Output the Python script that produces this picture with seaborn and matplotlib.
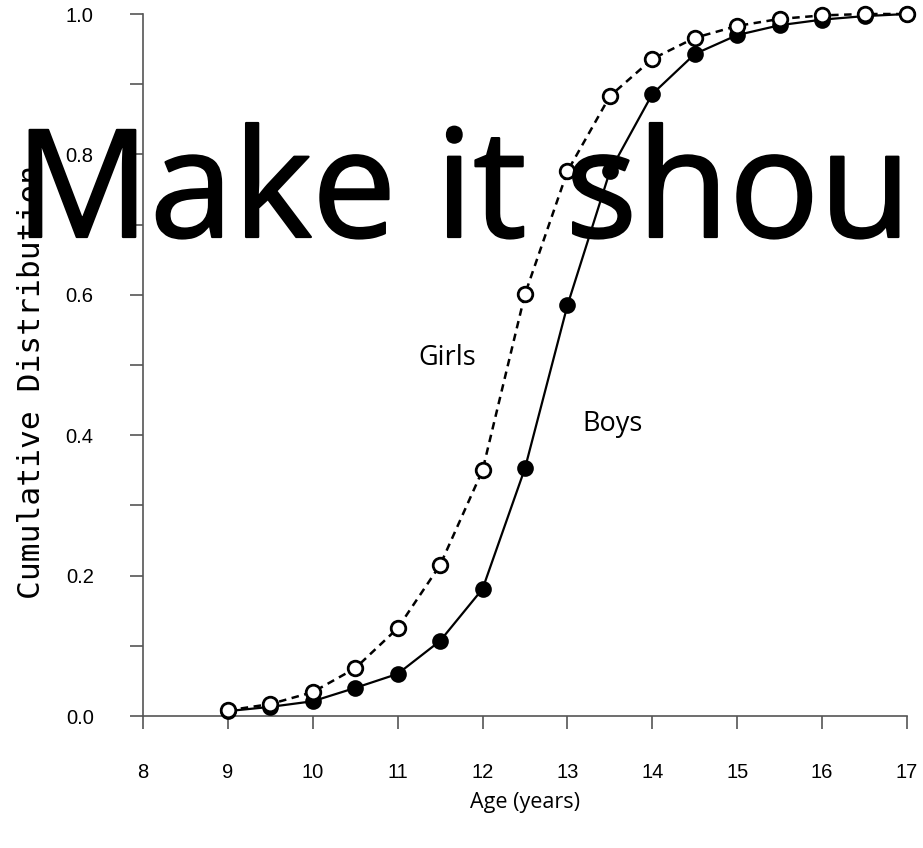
import numpy as np
import pandas as pd
import seaborn as sns
import matplotlib
matplotlib.use("Agg")
import matplotlib.pyplot as plt
import matplotlib.patheffects as pe

ages = [9, 9.5, 10, 10.5, 11, 11.5, 12, 12.5, 13, 13.5, 14, 14.5, 15, 15.5, 16, 16.5, 17]
boys = [0.007, 0.013, 0.021, 0.040, 0.060, 0.107, 0.181, 0.353, 0.585, 0.776, 0.886,
        0.943, 0.970, 0.984, 0.992, 0.997, 1.000]
girls = [0.008, 0.017, 0.034, 0.068, 0.125, 0.215, 0.350, 0.601, 0.776, 0.883, 0.936,
         0.966, 0.983, 0.993, 0.998, 1.000, 1.000]
x_ticks = [8, 9, 10, 11, 12, 13, 14, 15, 16, 17]
y_major = [0.0, 0.2, 0.4, 0.6, 0.8, 1.0]
y_minor = [0.1, 0.3, 0.5, 0.7, 0.9]

df_b = pd.DataFrame({"age": ages, "cdf": boys})
df_g = pd.DataFrame({"age": ages, "cdf": girls})

sns.set_style("ticks")
plt.rcParams["font.family"] = ["Liberation Sans", "DejaVu Sans"]
plt.rcParams["text.color"] = "black"
plt.rcParams["axes.labelcolor"] = "black"

fig = plt.figure(figsize=(9.23, 8.48), dpi=100)
ax = fig.add_axes([143 / 923, 132 / 848, 764 / 923, 702 / 848])

sns.lineplot(data=df_b, x="age", y="cdf", ax=ax, color="black", lw=1.6,
             marker="o", markersize=10.5, markerfacecolor="black",
             markeredgecolor="black", markeredgewidth=1.5, clip_on=False, zorder=3)
sns.lineplot(data=df_g, x="age", y="cdf", ax=ax, color="black", lw=1.8,
             linestyle=(0, (3, 2.2)),
             marker="o", markersize=10.5, markerfacecolor="white",
             markeredgecolor="black", markeredgewidth=2.0, clip_on=False, zorder=4)

ax.set_xlim(8, 17)
ax.set_ylim(0, 1.0)
ax.set_xticks(x_ticks)
ax.set_xticklabels([str(t) for t in x_ticks])
ax.set_yticks(y_major)
ax.set_yticklabels([f"{v:.1f}" for v in y_major])
ax.set_yticks(y_minor, minor=True)

for s in ["top", "right"]:
    ax.spines[s].set_visible(False)
for s in ["left", "bottom"]:
    ax.spines[s].set_color("#555555")
    ax.spines[s].set_linewidth(1.2)

ax.tick_params(axis="x", which="major", direction="out", length=9.5, width=1.2,
               color="#555555", pad=24, labelsize=14.5, labelcolor="black")
ax.tick_params(axis="y", which="both", direction="out", length=9.5, width=1.2,
               color="#555555", pad=26, labelsize=14.5, labelcolor="black")

ax.set_xlabel("Age (years)", fontsize=15.5, family=["Open Sans", "DejaVu Sans"],
              color="black")
ax.xaxis.set_label_coords(0.5, -0.108)
ax.set_ylabel("Cumulative Distribution", fontsize=22.5,
              family=["DejaVu Sans Mono", "DejaVu Sans"], color="black")
ax.yaxis.set_label_coords(-0.127, 0.476)

ax.text(11.24, 0.51, "Girls", fontsize=19.5, va="center", ha="left",
        family=["Open Sans", "DejaVu Sans"], color="black")
ax.text(13.17, 0.416, "Boys", fontsize=19.5, va="center", ha="left",
        family=["Open Sans", "DejaVu Sans"], color="black")

fig.text(15 / 923, 611 / 848, "Make it shou", fontsize=108, va="baseline", ha="left",
         family=["Open Sans", "DejaVu Sans"], color="black",
         zorder=10,
         path_effects=[pe.withStroke(linewidth=1.6, foreground="black")])

fig.savefig("out.png", dpi=100)
